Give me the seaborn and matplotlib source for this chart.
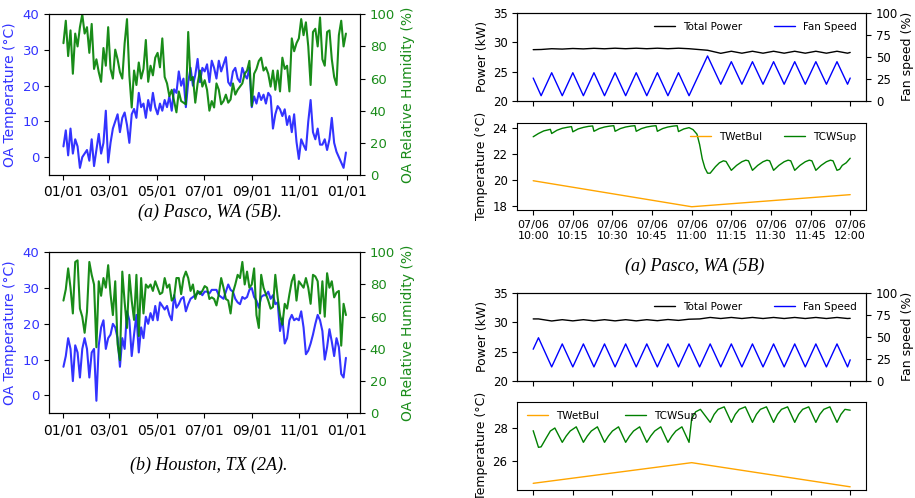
import matplotlib
matplotlib.use('Agg')
import matplotlib.pyplot as plt
import matplotlib.dates as mdates
import pandas as pd
import seaborn as sns

# 室外空气日数据（约每3天一个点，全年）
pasco_temp = [3, 7.5, 0.5, 8, 1, 5, 3, -3, 0, 1,
              2, -1, 5, -2.5, 2, 6.5, 1, 4, 13, -1.5,
              4, 8, 10, 12, 7, 11, 12.5, 9, 4, 12,
              13.5, 11, 18, 14, 15, 11, 16, 13, 18, 14,
              12, 15, 13, 16, 14, 17, 13, 19, 18, 24,
              20, 22, 14, 21, 25, 20, 23, 27.5, 21, 25,
              24, 26, 21, 27, 25, 22, 27, 24, 26, 28,
              21, 20, 24, 25, 22, 21, 25, 23, 22, 25,
              14, 17, 15, 18, 16, 17.5, 15, 18, 17, 8,
              12, 14.3, 13.4, 11.5, 13.4, 9, 11.5, 7, 12, 4.3,
              -0.5, 5, 3.4, 2, 10, 16, 7, 5, 8, 3.5,
              3.5, 5, 2, 5, 11, 4, 1.5, 0, -1.5, -3, 1.3]
pasco_rh = [82, 96, 74, 90, 63, 88, 80, 92, 100, 88,
            92, 76, 94, 66, 72, 64, 58, 79, 68, 92,
            66, 60, 78, 72, 64, 60, 82, 97, 62, 42,
            65, 56, 70, 60, 66, 84, 58, 68, 62, 73,
            76, 67, 85, 61, 57, 49, 53, 46, 39, 52,
            46, 45, 44, 89, 59, 61, 45, 57, 65, 55,
            59, 53, 40, 46, 42, 57, 53, 44, 46, 50,
            45, 47, 57, 50, 53, 55, 57, 63, 65, 71,
            43, 63, 66, 71, 73, 65, 67, 63, 55, 65,
            53, 65, 52, 73, 66, 68, 52, 85, 77, 82,
            85, 97, 87, 95, 80, 56, 89, 91, 80, 98,
            72, 68, 89, 90, 72, 61, 56, 87, 96, 80, 88]
houston_temp = [8, 11, 16, 13, 4, 14, 12, 5, 13, 16,
                13, 5, 12, 13, -1.5, 14, 19, 21, 13, 16,
                17, 20, 19, 16, 8, 16, 13, 23.5, 21, 11,
                17, 22.5, 12, 19, 16, 22, 20, 23, 21, 25,
                21, 26, 25, 24, 25, 22.5, 21, 28, 24.5, 25.5,
                27, 27.5, 23.5, 25.5, 27, 27.5, 28, 28.5, 29, 28,
                29, 29, 28.5, 29.5, 29.5, 29.5, 28, 27.5, 27, 29,
                31, 29.5, 29, 27, 26, 25.5, 27.5, 27, 27.5, 29.5,
                30, 27.5, 26.5, 24.5, 27.5, 28, 28, 29, 27, 28,
                25.5, 26, 18, 21.5, 14.5, 16, 21, 22.5, 21, 21.5,
                21, 23.5, 19, 11.5, 12.5, 14.5, 17, 20, 22.5, 21,
                18, 10, 13.5, 18.5, 15, 11, 16, 13.5, 6, 5, 10.5]
houston_rh = [70, 77, 90, 78, 62, 94, 95, 65, 60, 50,
              63, 94, 86, 80, 41, 82, 73, 84, 78, 92,
              74, 61, 82, 43, 33, 88, 69, 53, 86, 70,
              58, 86, 48, 84, 62, 80, 78, 80, 76, 82,
              78, 74, 75, 84, 78, 80, 70, 72, 84, 84,
              74, 84, 88, 84, 76, 80, 71, 76, 74, 76,
              79, 78, 71, 72, 71, 67, 74, 84, 78, 71,
              70, 62, 75, 80, 86, 84, 94, 80, 88, 78,
              80, 90, 61, 53, 86, 78, 74, 70, 65, 66,
              86, 72, 61, 55, 68, 65, 74, 82, 86, 70,
              82, 80, 78, 84, 78, 68, 86, 85, 82, 62,
              82, 60, 87, 78, 82, 72, 75, 76, 42, 68, 61]

# 07/06 10:00-12:00 控制过程（横轴为10:00后的分钟数）
fan_min_pasco = [0, 3, 7, 11, 15, 19, 23, 27, 31, 35, 39, 43, 47, 51, 55, 59,
                 66, 71, 75, 79, 83, 87, 91, 95, 99, 103, 107, 111, 115, 119, 120]
fan_pasco = [26, 6, 32, 6, 32, 6, 32, 6, 32, 6, 32, 6, 32, 6, 32, 6,
             51, 19, 44.5, 19, 44.5, 19, 44.5, 19, 44.5, 19, 44.5, 19, 44.5, 19, 26]
power_pasco = [28.72, 28.75, 28.88, 28.82, 28.92, 28.85, 28.95, 28.87, 28.97, 28.88,
               28.97, 28.88, 28.97, 28.88, 28.97, 28.88, 28.62, 28.1, 28.45, 28.12,
               28.45, 28.12, 28.45, 28.12, 28.45, 28.12, 28.45, 28.12, 28.45, 28.12, 28.25]
tcw_min_pasco = [0, 2, 4, 6.5, 7, 9, 11, 13, 14.5, 15, 17, 19, 21, 22.5, 23,
                 25, 27, 29, 30.5, 31, 33, 35, 37, 38.5, 39, 41, 43, 45, 46.5, 47,
                 49, 51, 53, 54.5, 55, 57, 59, 60.5, 62, 63, 64, 65, 66, 67, 68,
                 69, 70.5, 72, 73, 75, 77, 79, 80.5, 81.5, 83, 85, 87, 88.5, 89.5, 91,
                 93, 95, 96.5, 97.5, 99, 101, 103, 104.5, 105.5, 107,
                 109, 111, 112.5, 113.5, 115, 116, 117, 118.5, 120]
tcw_pasco = [23.3, 23.55, 23.75, 23.87, 23.55, 23.8, 23.95, 24.03, 24.08, 23.68,
             23.9, 24.02, 24.1, 24.13, 23.72, 23.93, 24.05, 24.12, 24.15, 23.72,
             23.93, 24.05, 24.12, 24.15, 23.72, 23.93, 24.05, 24.12, 24.15, 23.72,
             23.93, 24.05, 24.12, 24.15, 23.7, 23.9, 24.0, 23.85, 23.5, 22.7,
             21.6, 20.9, 20.5, 20.5, 20.75, 21.0, 21.3, 21.45, 21.4, 20.72,
             21.1, 21.38, 21.5, 21.45, 20.72, 21.1, 21.38, 21.5, 21.45, 20.72,
             21.1, 21.38, 21.5, 21.45, 20.72, 21.1, 21.38, 21.5, 21.45, 20.72,
             21.1, 21.38, 21.5, 21.45, 20.72, 20.8, 21.1, 21.3, 21.65]

fan_min_houston = [0, 2, 7, 11, 15, 19, 23, 27, 31, 35, 39, 43, 47, 51, 55, 59,
                   63, 67, 71, 75, 79, 83, 87, 91, 95, 99, 103, 107, 111, 115, 119, 120]
fan_houston = [36, 49, 16, 42, 16, 42, 16, 42, 16, 42, 16, 42, 16, 42, 16, 42,
               16, 42, 16, 42, 16, 42, 16, 42, 16, 42, 16, 42, 16, 42, 16, 24]
power_houston = [30.55, 30.55, 30.2, 30.42, 30.22, 30.42, 30.22, 30.42, 30.22, 30.42,
                 30.22, 30.42, 30.25, 30.45, 30.3, 30.5, 30.55, 30.8, 30.62, 30.8,
                 30.62, 30.8, 30.62, 30.8, 30.62, 30.8, 30.62, 30.8, 30.62, 30.8, 30.62, 30.65]
tcw_min_houston = [0, 2, 3, 5, 6.5, 8.2, 11, 12.5, 14, 16.3, 19, 20.5, 22, 24.3,
                   27, 28.5, 30, 32.3, 35, 36.5, 38, 40.3, 43, 44.5, 46, 48.3,
                   51, 52.5, 54, 56.3, 59, 60, 61.5, 63.3, 67, 68.5, 70, 72.3,
                   75, 76.5, 78, 80.3, 83, 84.5, 86, 88.3, 91, 92.5, 94, 96.3,
                   99, 100.5, 102, 104.3, 107, 108.5, 110, 112.3, 115, 116.5, 118, 120]
tcw_houston = [27.82, 26.82, 26.85, 27.4, 27.8, 27.98, 27.12, 27.5, 27.8, 28.05,
               27.12, 27.5, 27.8, 28.05, 27.12, 27.5, 27.8, 28.05, 27.12, 27.5,
               27.8, 28.05, 27.12, 27.5, 27.8, 28.05, 27.12, 27.5, 27.8, 28.05,
               27.12, 28.55, 28.95, 29.1, 28.32, 28.8, 29.1, 29.25, 28.32, 28.8,
               29.1, 29.25, 28.32, 28.8, 29.1, 29.25, 28.32, 28.8, 29.1, 29.25,
               28.32, 28.8, 29.1, 29.25, 28.32, 28.8, 29.1, 29.25, 28.32, 28.8, 29.1, 29.05]
wb_min = [0, 60, 120]
wb_pasco = [19.92, 17.92, 18.85]
wb_houston = [24.66, 25.9, 24.45]

BLUE = (0.2, 0.2, 1.0)
GREEN = (0.1, 0.55, 0.1)
T0 = pd.Timestamp('2023-07-06 10:00')

sns.set_style('ticks')
plt.rcParams.update({
    'font.family': ['DejaVu Sans'],
    'font.size': 10,
    'axes.edgecolor': 'black',
    'axes.labelcolor': 'black',
    'text.color': 'black',
    'xtick.color': 'black',
    'ytick.color': 'black',
})


def oa_panel(ax, temp, rh):
    days = pd.date_range('2023-01-01', '2023-12-31', periods=len(temp))
    sns.lineplot(x=days, y=temp, ax=ax, color='blue', alpha=0.8, lw=1.5)
    ax.set_ylim(-5, 40)
    ax.set_ylabel('OA Temperature (°C)', color=BLUE, fontsize=10)
    ax.tick_params(axis='y', labelcolor=BLUE, labelsize=9.5)
    ax2 = ax.twinx()
    sns.lineplot(x=days, y=rh, ax=ax2, color='green', alpha=0.9, lw=1.5)
    ax2.set_ylim(0, 100)
    ax2.set_ylabel('OA Relative Humidity (%)', color=GREEN, fontsize=10)
    ax2.tick_params(axis='y', labelcolor=GREEN, labelsize=9.5)
    ax.xaxis.set_major_locator(mdates.MonthLocator(bymonth=[1, 3, 5, 7, 9, 11]))
    ax.xaxis.set_major_formatter(mdates.DateFormatter('%m/%d'))
    ax.tick_params(axis='x', labelsize=10)
    ax.set_xlabel('')


def control_panels(ax_p, ax_t, fan_min, fan, power, tcw_min, tcw, wb, t_ylim, t_ticks, leg_loc, colsp):
    t_fan = T0 + pd.to_timedelta(fan_min, unit='m')
    sns.lineplot(x=t_fan, y=power, ax=ax_p, color='black', lw=1, label='Total Power', legend=False)
    ax_f = ax_p.twinx()
    sns.lineplot(x=t_fan, y=fan, ax=ax_f, color='blue', lw=1, label='Fan Speed', legend=False)
    ax_p.set_ylim(20, 35)
    ax_p.set_yticks([20, 25, 30, 35])
    ax_f.set_ylim(0, 100)
    ax_f.set_yticks([0, 25, 50, 75, 100])
    ax_p.set_ylabel('Power (kW)', fontsize=9, labelpad=3)
    ax_f.set_ylabel('Fan speed (%)', fontsize=9, labelpad=2)
    ax_p.tick_params(labelsize=8.5, labelbottom=False)
    ax_f.tick_params(labelsize=8.5)
    ax_p.set_xlabel('')
    h1, l1 = ax_p.get_legend_handles_labels()
    h2, l2 = ax_f.get_legend_handles_labels()
    ax_f.legend(h1 + h2, l1 + l2, ncol=2, frameon=False, loc='upper right',
                fontsize=7.5, columnspacing=3.0)

    t_wb = T0 + pd.to_timedelta(wb_min, unit='m')
    t_tcw = T0 + pd.to_timedelta(tcw_min, unit='m')
    sns.lineplot(x=t_wb, y=wb, ax=ax_t, color='orange', lw=1, label='TWetBul', legend=False)
    sns.lineplot(x=t_tcw, y=tcw, ax=ax_t, color='green', lw=1, label='TCWSup', legend=False)
    ax_t.set_ylim(*t_ylim)
    ax_t.set_yticks(t_ticks)
    ax_t.set_ylabel('Temperature (°C)', fontsize=9, labelpad=3)
    ax_t.set_xlabel('')
    ax_t.tick_params(axis='y', labelsize=8.5)
    ax_t.tick_params(axis='x', labelsize=8)
    ax_t.legend(ncol=2, frameon=False, loc=leg_loc, fontsize=7.5, columnspacing=colsp)
    ax_t.xaxis.set_major_locator(mdates.MinuteLocator(byminute=[0, 15, 30, 45]))
    ax_t.xaxis.set_major_formatter(mdates.DateFormatter('%m/%d\n%H:%M'))


fig = plt.figure(figsize=(9.15, 4.98), dpi=100)

ax_a = fig.add_axes([0.0539, 0.6486, 0.3396, 0.3227])
oa_panel(ax_a, pasco_temp, pasco_rh)
ax_b = fig.add_axes([0.0539, 0.1701, 0.3396, 0.3233])
oa_panel(ax_b, houston_temp, houston_rh)

ax_p1 = fig.add_axes([0.5654, 0.7972, 0.3811, 0.1773])
ax_t1 = fig.add_axes([0.5654, 0.5783, 0.3811, 0.1753], sharex=ax_p1)
control_panels(ax_p1, ax_t1, fan_min_pasco, fan_pasco, power_pasco,
               tcw_min_pasco, tcw_pasco, wb_pasco, (17.67, 24.38), [18, 20, 22, 24],
               'upper right', 2.1)

ax_p2 = fig.add_axes([0.5654, 0.2349, 0.3811, 0.1773])
ax_t2 = fig.add_axes([0.5654, 0.0161, 0.3811, 0.1773], sharex=ax_p2)
control_panels(ax_p2, ax_t2, fan_min_houston, fan_houston, power_houston,
               tcw_min_houston, tcw_houston, wb_houston, (24.26, 29.56), [26, 28],
               'upper left', 2.5)

cap = dict(ha='center', va='center', fontsize=13, family='Liberation Serif', style='italic')
fig.text(0.2295, 0.5743, '(a) Pasco, WA (5B).', **cap)
fig.text(0.2281, 0.0663, '(b) Houston, TX (2A).', **cap)
fig.text(0.7596, 0.4645, '(a) Pasco, WA (5B)', **cap)

fig.savefig('out.png', dpi=100)
